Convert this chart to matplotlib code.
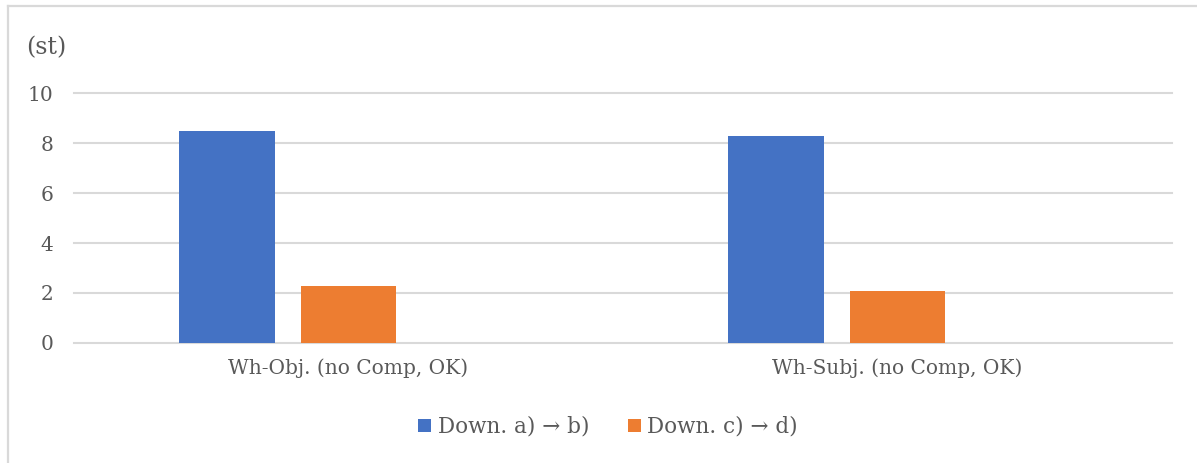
import matplotlib
matplotlib.use("Agg")
import matplotlib.pyplot as plt
from matplotlib.patches import Patch
from matplotlib.lines import Line2D
import numpy as np

# Data
categories = ["Wh-Obj. (no Comp, OK)", "Wh-Subj. (no Comp, OK)"]
series_names = ["Down. a) \u2192 b)", "Down. c) \u2192 d)"]
series_values = [
    [8.5, 8.3],   # Down. a) -> b)
    [2.3, 2.07],  # Down. c) -> d)
]
y_ticks = [0, 2, 4, 6, 8, 10]
y_unit = "(st)"

colors = ["#4472C4", "#ED7D31"]
text_color = "#595959"
grid_color = "#D9D9D9"
font = ["DejaVu Serif", "DejaVu Sans"]

W, H = 1197, 463
fig = plt.figure(figsize=(W / 100, H / 100), dpi=100)
fig.patch.set_facecolor("white")

ax = fig.add_axes([74 / W, 1 - 343 / H, (1172 - 74) / W, (343 - 93) / H])

x = np.arange(len(categories))
bar_w = 0.174
step = 0.2215
# clustered layout with three slots per category; the two series fill the first two
offsets = [-step, 0.0]
for vals, off, c in zip(series_values, offsets, colors):
    ax.bar(x + off, vals, width=bar_w, color=c, zorder=3)

ax.set_xlim(-0.5, len(categories) - 0.5)
ax.set_ylim(0, 10)
ax.set_yticks(y_ticks)
ax.set_yticklabels([str(t) for t in y_ticks], family=font, fontsize=14.5, color=text_color)
ax.set_xticks(x)
ax.set_xticklabels(categories, family=font, fontsize=14.5, color=text_color)
ax.tick_params(axis="both", length=0)
ax.tick_params(axis="y", pad=15)
ax.tick_params(axis="x", pad=11)

for s in ax.spines.values():
    s.set_visible(False)
ax.yaxis.grid(True, color=grid_color, linewidth=1.5, zorder=0)
ax.set_axisbelow(True)
for gl in ax.get_ygridlines():
    gl.set_clip_on(False)

fig.text(26 / W, 1 - 48 / H, y_unit, family=font, fontsize=17, color=text_color,
         ha="left", va="center")

handles = [Patch(facecolor=c, edgecolor="none") for c in colors]
fig.legend(handles, series_names, loc="center", bbox_to_anchor=(608 / W, 1 - 427 / H),
           ncol=2, frameon=False, prop={"family": font, "size": 15.5},
           labelcolor=text_color, handlelength=0.6, handleheight=0.6,
           handletextpad=0.3, columnspacing=1.8)

# chart frame (left and top edges)
fig.add_artist(Line2D([8 / W, 8 / W], [0, 1 - 6 / H], color=grid_color, linewidth=1.6))
fig.add_artist(Line2D([8 / W, 1], [1 - 6 / H, 1 - 6 / H], color=grid_color, linewidth=1.6))

fig.savefig("out.png", dpi=100, facecolor="white")
